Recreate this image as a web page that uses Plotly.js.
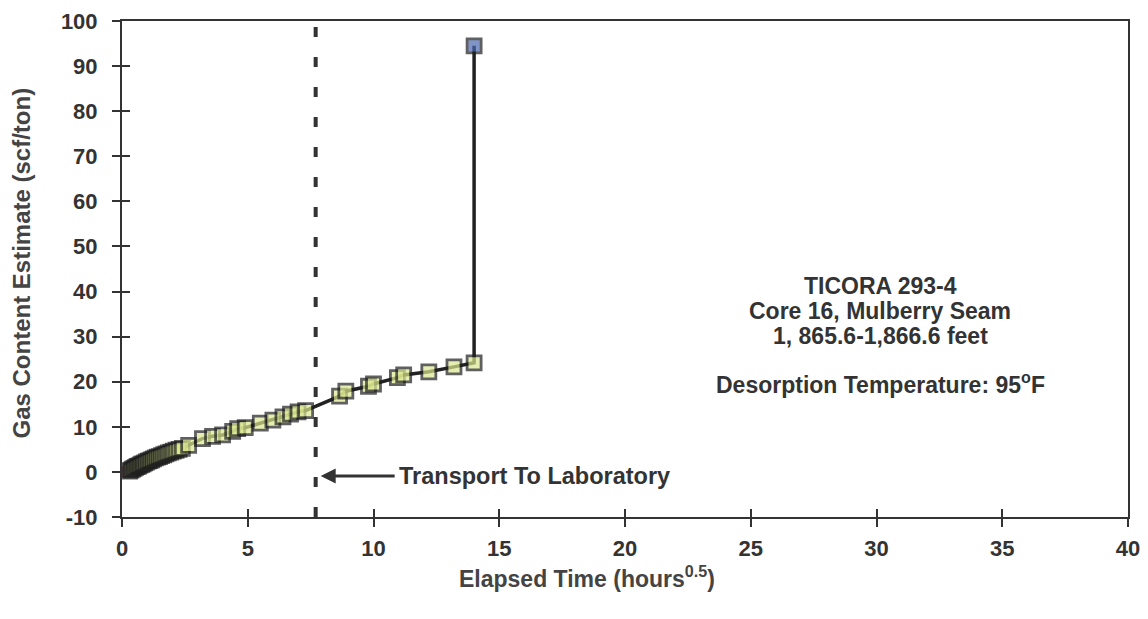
<!DOCTYPE html>
<html>
<head>
<meta charset="utf-8">
<script src="https://cdn.plot.ly/plotly-3.0.1.min.js"></script>
<style>
  html, body { margin: 0; padding: 0; background: #ffffff; }
  #chart { width: 1148px; height: 619px; }
</style>
</head>
<body>
<div id="chart"></div>
<script>
// ---- Data ----
var sqrtHours = [0,
                 0.30, 0.36, 0.42, 0.48, 0.54, 0.60, 0.66, 0.72, 0.78, 0.84, 0.90, 0.97, 1.04, 1.11,
                 1.18, 1.25, 1.33, 1.41, 1.49, 1.57, 1.66, 1.75, 1.84, 1.94, 2.04, 2.15, 2.27, 2.40,
                 2.65, 3.2, 3.6, 4.0, 4.4, 4.6, 4.9, 5.5, 6.0, 6.4, 6.7, 7.0, 7.3,
                 8.65, 8.9, 9.8, 10.0, 10.95, 11.2, 12.2, 13.2, 14.0, 14.0];
var gasContent = [0,
                  0.2, 0.4, 0.6, 0.8, 1.0, 1.2, 1.3, 1.5, 1.7, 1.8, 2.0, 2.2, 2.4, 2.5,
                  2.7, 2.9, 3.1, 3.3, 3.4, 3.6, 3.8, 4.0, 4.2, 4.4, 4.6, 4.8, 5.0, 5.2,
                  5.9, 7.4, 7.9, 8.2, 9.0, 9.6, 9.8, 10.8, 11.5, 12.2, 12.8, 13.3, 13.6,
                  16.8, 17.9, 19.0, 19.5, 20.9, 21.5, 22.2, 23.3, 24.2, 94.5];
var transportTime = [7.7];           // sqrt(hours) at end of transport
var transportLabel = "Transport To Laboratory";
var xTitle = "Elapsed Time (hours<sup>0.5</sup>)";
var yTitle = "Gas Content Estimate (scf/ton)";
var infoLines = ["TICORA 293-4", "Core 16, Mulberry Seam", "1, 865.6-1,866.6 feet", "Desorption Temperature: 95<sup>o</sup>F"];
var xTicks = [0, 5, 10, 15, 20, 25, 30, 35, 40];
var xTickLabels = ["0", "5", "10", "15", "20", "25", "30", "35", "40"];
var yTicks = [-10, 0, 10, 20, 30, 40, 50, 60, 70, 80, 90, 100];
var yTickLabels = ["-10", "0", "10", "20", "30", "40", "50", "60", "70", "80", "90", "100"];

// ---- Styles / placement ----
var FONT = "'Liberation Sans', Arial, Helvetica, sans-serif";
var INK = "#333333";
var infoX = 30.15;
var infoY = [41.2, 35.7, 30.2, 19.7];   // vertical anchor of each info line (data units)
var n = sqrtHours.length;
var fills = sqrtHours.map(function (v, i) {
  if (i === 0) return "#d0607a";
  if (i === n - 1) return "#4a68b0";
  return "#dbe88f";
});
var sizes = sqrtHours.map(function (v, i) { return i === 0 ? 8 : 14; });
var borders = sqrtHours.map(function (v, i) { return i === 0 ? "#b04060" : "#1e1e1e"; });

var traces = [{
  x: sqrtHours,
  y: gasContent,
  type: "scatter",
  mode: "lines+markers",
  line: { color: "#222222", width: 3.5 },
  marker: { symbol: "square", size: sizes, color: fills, line: { color: borders, width: 2.8 } },
  hoverinfo: "x+y",
  showlegend: false
}, {
  // invisible helper for overlay axes (inner half of the cross ticks)
  x: [xTicks[0], xTicks[xTicks.length - 1]],
  y: [yTicks[0], yTicks[yTicks.length - 1]],
  xaxis: "x2", yaxis: "y2",
  mode: "markers", marker: { opacity: 0 }, hoverinfo: "skip", showlegend: false
}];

var xRange = [xTicks[0], xTicks[xTicks.length - 1]];
var yRange = [yTicks[0], yTicks[yTicks.length - 1]];

var axCommon = {
  showgrid: false, zeroline: false, showline: true, linecolor: INK, linewidth: 2,
  mirror: true, ticks: "outside", ticklen: 8, tickwidth: 2, tickcolor: INK,
  tickmode: "array",
  tickfont: { family: FONT, size: 22, color: INK, weight: "bold" }
};

var annotations = [{
  xref: "paper", yref: "y", x: -0.1, y: 46.3, xanchor: "center", yanchor: "middle",
  text: yTitle, textangle: -90, showarrow: false,
  font: { family: FONT, size: 24, color: "#444444", weight: "bold" }
}, {
  xref: "x", yref: "paper", x: 18.5, y: -0.121, xanchor: "center", yanchor: "middle",
  text: xTitle, showarrow: false,
  font: { family: FONT, size: 23, color: "#444444", weight: "bold" }
}, {
  xref: "x", yref: "y", axref: "x", ayref: "y",
  x: transportTime[0] + 0.2, y: -0.9, ax: transportTime[0] + 3.2, ay: -0.9,
  text: "", showarrow: true, arrowhead: 2, arrowsize: 1, arrowwidth: 3, arrowcolor: "#333333"
}, {
  xref: "x", yref: "y", x: transportTime[0] + 3.25, y: -0.9, xanchor: "left", yanchor: "middle",
  text: transportLabel, showarrow: false,
  font: { family: FONT, size: 23.5, color: INK, weight: "bold" }
}];
infoLines.forEach(function (t, i) {
  annotations.push({
    xref: "x", yref: "y", x: infoX, y: infoY[i], xanchor: "center", yanchor: "middle",
    text: t, showarrow: false,
    font: { family: FONT, size: 23, color: INK, weight: "bold" }
  });
});

var layout = {
  width: 1148, height: 619,
  margin: { l: 122, r: 20, t: 21, b: 102 },
  paper_bgcolor: "#ffffff", plot_bgcolor: "#ffffff",
  font: { family: FONT, color: INK },
  xaxis: Object.assign({}, axCommon, {
    range: xRange, tickvals: xTicks, ticktext: xTickLabels, ticklabelstandoff: 3
  }),
  yaxis: Object.assign({}, axCommon, {
    range: yRange, tickvals: yTicks, ticktext: yTickLabels, ticklabelstandoff: 10
  }),
  xaxis2: { overlaying: "x", range: xRange, tickmode: "array", tickvals: xTicks, showticklabels: false,
            ticks: "inside", ticklen: 8, tickwidth: 2, tickcolor: INK, showgrid: false, zeroline: false, showline: false, side: "bottom" },
  yaxis2: { overlaying: "y", range: yRange, tickmode: "array", tickvals: yTicks, showticklabels: false,
            ticks: "inside", ticklen: 8, tickwidth: 2, tickcolor: INK, showgrid: false, zeroline: false, showline: false, side: "left" },
  shapes: [{
    type: "line", xref: "x", yref: "y",
    x0: transportTime[0], x1: transportTime[0], y0: yRange[0], y1: yRange[1],
    line: { color: "#333333", width: 4, dash: "10px,20px" }, layer: "below"
  }],
  annotations: annotations
};

Plotly.newPlot("chart", traces, layout, { displayModeBar: false, staticPlot: true });
</script>
</body>
</html>
